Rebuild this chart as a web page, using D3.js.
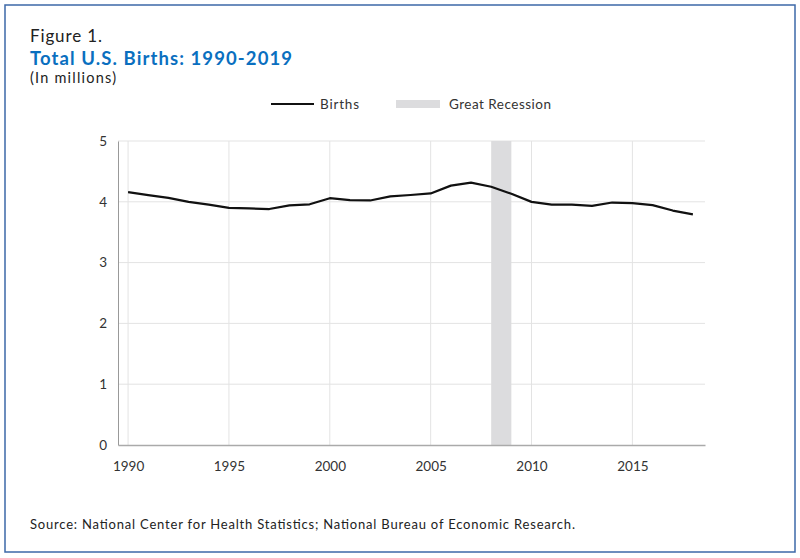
<!DOCTYPE html>
<html><head><meta charset="utf-8">
<script src="https://cdn.jsdelivr.net/npm/d3@7"></script>
<style>body{margin:0;background:#fff}svg{display:block}text{font-family:Lato,"Open Sans",sans-serif}</style>
</head><body><svg id="c" width="800" height="558"></svg>
<script>
const years = [1990,1991,1992,1993,1994,1995,1996,1997,1998,1999,2000,2001,2002,2003,2004,2005,2006,2007,2008,2009,2010,2011,2012,2013,2014,2015,2016,2017,2018];
const births = [4.158,4.111,4.065,4.000,3.953,3.900,3.891,3.881,3.942,3.959,4.059,4.026,4.022,4.090,4.112,4.138,4.266,4.316,4.248,4.131,3.999,3.954,3.953,3.932,3.988,3.978,3.946,3.856,3.792];
const recession = [2008,2009];
const xTicks = [1990,1995,2000,2005,2010,2015];
const yTicks = [0,1,2,3,4,5];

const svg = d3.select("#c");
svg.append("rect").attr("x",5).attr("y",5).attr("width",790).attr("height",547)
  .attr("fill","none").attr("stroke","#3d68a8").attr("stroke-width",1.5);

function txt(xp, yp, size, str, len, opts={}) {
  const t = svg.append("text").attr("x",xp).attr("y",yp).attr("font-size",size)
    .attr("fill",opts.fill||"#222").text(str);
  if (opts.bold) t.attr("font-weight","bold");
  if (len) t.attr("textLength",len).attr("lengthAdjust","spacing");
  return t;
}
txt(30,42,17,"Figure 1.",72);
txt(30,65,18.5,"Total U.S. Births: 1990-2019",262,{bold:true,fill:"#0a6fbf"});
txt(30,83,14.5,"(In millions)",86);

const x = d3.scaleLinear().domain([1989.5,2018.6]).range([118,705]);
const y = d3.scaleLinear().domain([0,5]).range([445,141]);

const g = svg.append("g");
g.selectAll(".vg").data(xTicks).join("line").attr("x1",d=>x(d)).attr("x2",d=>x(d))
  .attr("y1",y(5)).attr("y2",y(0)).attr("stroke","#e3e3e3").attr("stroke-width",1);
g.selectAll(".hg").data(yTicks.filter(d=>d>0)).join("line").attr("x1",118).attr("x2",705)
  .attr("y1",d=>y(d)).attr("y2",d=>y(d)).attr("stroke","#e3e3e3").attr("stroke-width",1);

g.append("rect").attr("x",x(recession[0])).attr("width",x(recession[1])-x(recession[0]))
  .attr("y",y(5)).attr("height",y(0)-y(5)).attr("fill","#dcdcde");

const yAxis = d3.axisLeft(y).tickValues(yTicks).tickSize(0).tickPadding(11).tickFormat(d3.format("d"));
const ya = svg.append("g").attr("transform","translate(118,0)").call(yAxis);
ya.select(".domain").attr("stroke","#999");
ya.selectAll("text").attr("font-size",13.5).attr("fill","#333").style("font-family","Lato,sans-serif");

const xAxis = d3.axisBottom(x).tickValues(xTicks).tickSize(0).tickPadding(16).tickFormat(d3.format("d"));
const xa = svg.append("g").attr("transform","translate(0,445)").call(xAxis);
xa.select(".domain").attr("stroke","#aaa").attr("stroke-width",1.5);
xa.selectAll("text").attr("font-size",13.5).attr("fill","#333").style("font-family","Lato,sans-serif");

const line = d3.line().x((d,i)=>x(years[i])).y(d=>y(d));
svg.append("path").datum(births).attr("d",line).attr("fill","none").attr("stroke","#111").attr("stroke-width",2.2).attr("stroke-linejoin","round");

svg.append("line").attr("x1",271).attr("x2",314).attr("y1",104).attr("y2",104).attr("stroke","#111").attr("stroke-width",2.2);
txt(320,109,13.5,"Births",39,{fill:"#333"});
svg.append("rect").attr("x",396).attr("y",100).attr("width",44).attr("height",8).attr("fill","#dcdcde");
txt(449,109,13.5,"Great Recession",102,{fill:"#333"});

txt(30,529,13,"Source: National Center for Health Statistics; National Bureau of Economic Research.",545);
</script></body></html>
